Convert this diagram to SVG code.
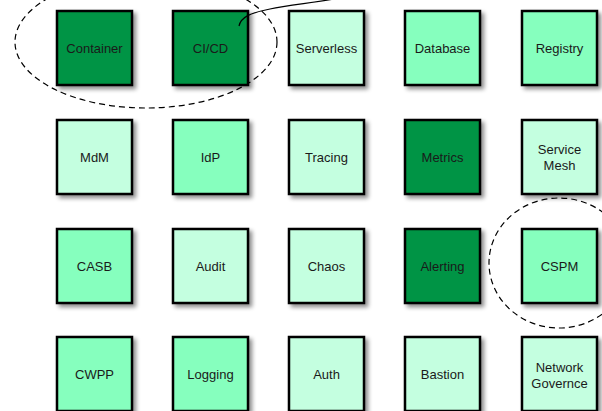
<svg xmlns="http://www.w3.org/2000/svg" width="602" height="411" viewBox="0 0 602 411">
  <defs>
    <filter id="shadow" x="-20%" y="-20%" width="150%" height="150%">
      <feGaussianBlur in="SourceAlpha" stdDeviation="2.2"/>
      <feOffset dx="3" dy="3" result="b"/>
      <feComponentTransfer><feFuncA type="linear" slope="0.45"/></feComponentTransfer>
      <feMerge><feMergeNode/><feMergeNode in="SourceGraphic"/></feMerge>
    </filter>
  </defs>
  <style>
    .box { stroke: #000; stroke-width: 2.5; filter: url(#shadow); }
    .dark { fill: #009444; }
    .mid { fill: #86ffbe; }
    .light { fill: #c4ffe0; }
    .lbl { font-family: "Liberation Sans", Arial, sans-serif; font-size: 13px; fill: #1a1a1a; text-anchor: middle; }
    .group { fill: none; stroke: #000; stroke-width: 1.2; stroke-dasharray: 6 4; }
    .link { fill: none; stroke: #000; stroke-width: 1.2; }
  </style>
  <rect width="602" height="411" fill="#ffffff"/>

  <!-- group outlines -->
  <g id="groups">
    <ellipse class="group" cx="146" cy="42" rx="131" ry="66"/>
    <ellipse class="group" cx="559" cy="263" rx="70" ry="65"/>
  </g>

  <!-- row 1 -->
  <g id="container"><rect class="box dark" x="57" y="11" width="75" height="74"/><text class="lbl" x="94.5" y="52.5">Container</text></g>
  <g id="cicd"><rect class="box dark" x="173" y="11" width="75" height="74"/><text class="lbl" x="210.5" y="52.5">CI/CD</text></g>
  <g id="serverless"><rect class="box light" x="289" y="11" width="75" height="74"/><text class="lbl" x="326.5" y="52.5">Serverless</text></g>
  <g id="database"><rect class="box mid" x="405" y="11" width="75" height="74"/><text class="lbl" x="442.5" y="52.5">Database</text></g>
  <g id="registry"><rect class="box mid" x="522" y="11" width="75" height="74"/><text class="lbl" x="559.5" y="52.5">Registry</text></g>

  <!-- row 2 -->
  <g id="mdm"><rect class="box light" x="57" y="120" width="75" height="74"/><text class="lbl" x="94.5" y="161.5">MdM</text></g>
  <g id="idp"><rect class="box mid" x="173" y="120" width="75" height="74"/><text class="lbl" x="210.5" y="161.5">IdP</text></g>
  <g id="tracing"><rect class="box light" x="289" y="120" width="75" height="74"/><text class="lbl" x="326.5" y="161.5">Tracing</text></g>
  <g id="metrics"><rect class="box dark" x="405" y="120" width="75" height="74"/><text class="lbl" x="442.5" y="161.5">Metrics</text></g>
  <g id="service-mesh"><rect class="box light" x="522" y="120" width="75" height="74"/><text class="lbl" x="559.5" y="153.5">Service</text><text class="lbl" x="559.5" y="169.5">Mesh</text></g>

  <!-- row 3 -->
  <g id="casb"><rect class="box mid" x="57" y="229" width="75" height="74"/><text class="lbl" x="94.5" y="270.5">CASB</text></g>
  <g id="audit"><rect class="box light" x="173" y="229" width="75" height="74"/><text class="lbl" x="210.5" y="270.5">Audit</text></g>
  <g id="chaos"><rect class="box light" x="289" y="229" width="75" height="74"/><text class="lbl" x="326.5" y="270.5">Chaos</text></g>
  <g id="alerting"><rect class="box dark" x="405" y="229" width="75" height="74"/><text class="lbl" x="442.5" y="270.5">Alerting</text></g>
  <g id="cspm"><rect class="box mid" x="522" y="229" width="75" height="74"/><text class="lbl" x="559.5" y="270.5">CSPM</text></g>

  <!-- row 4 -->
  <g id="cwpp"><rect class="box mid" x="57" y="337" width="75" height="74"/><text class="lbl" x="94.5" y="378.5">CWPP</text></g>
  <g id="logging"><rect class="box mid" x="173" y="337" width="75" height="74"/><text class="lbl" x="210.5" y="378.5">Logging</text></g>
  <g id="auth"><rect class="box light" x="289" y="337" width="75" height="74"/><text class="lbl" x="326.5" y="378.5">Auth</text></g>
  <g id="bastion"><rect class="box light" x="405" y="337" width="75" height="74"/><text class="lbl" x="442.5" y="378.5">Bastion</text></g>
  <g id="network-governce"><rect class="box light" x="522" y="337" width="75" height="74"/><text class="lbl" x="559.5" y="371.5">Network</text><text class="lbl" x="559.5" y="387.5">Governce</text></g>

  <!-- connectors -->
  <g id="connectors">
    <path class="link" d="M239,26 C241,17 250,13 270,9 S320,2 345,-3"/>
  </g>
</svg>
